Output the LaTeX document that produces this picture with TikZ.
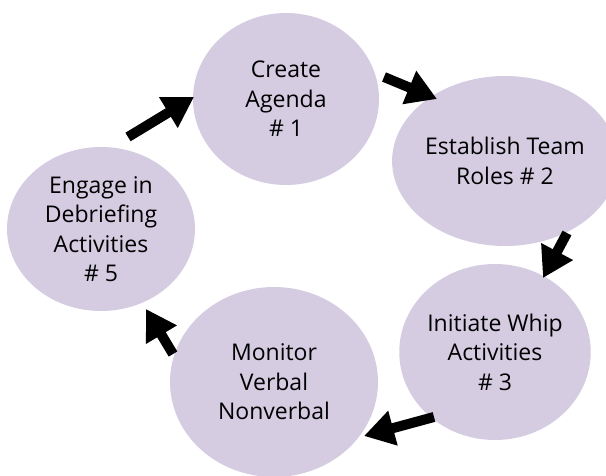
\documentclass[tikz,border=0pt]{standalone}
\usepackage{fontspec}
\setmainfont{Open Sans}
\usetikzlibrary{arrows.meta,shapes.geometric}
\definecolor{lav}{HTML}{D5CCE2}
\tikzset{
  bub/.style={ellipse, fill=lav, draw=none, align=center, inner sep=0pt,
    font=\fontsize{23}{29.5}\selectfont},
  blk/.style={line width=10pt, -{Triangle[width=34pt,length=30pt]}, draw=black}
}
\begin{document}
\begin{tikzpicture}[x=1pt,y=-1pt]
\useasboundingbox (0,0) rectangle (606,476);
\node[bub, minimum width=186pt, minimum height=172pt] (n1) at (286,99) {Create\\Agenda\\\# 1};
\node[bub, minimum width=204pt, minimum height=170pt] (n2) at (505,161) {Establish Team\\Roles \# 2};
\node[bub, minimum width=186pt, minimum height=176pt] (n3) at (495,352) {Initiate Whip\\Activities\\\# 3};
\node[bub, minimum width=208pt, minimum height=190pt] (n4) at (274,382) {Monitor\\Verbal\\Nonverbal};
\node[bub, minimum width=188pt, minimum height=164pt] (n5) at (101,229) {Engage in\\Debriefing\\Activities\\\# 5};
\coordinate (a1s) at (128,137); \coordinate (a1e) at (194,97);
\coordinate (a2s) at (384,77); \coordinate (a2e) at (437,99);
\coordinate (a3s) at (567,233); \coordinate (a3e) at (543,278);
\coordinate (a4s) at (434,417); \coordinate (a4e) at (364,436);
\coordinate (a5s) at (173,354); \coordinate (a5e) at (146,309);
\draw[blk] (a1s) -- (a1e);
\draw[blk] (a2s) -- (a2e);
\draw[blk] (a3s) -- (a3e);
\draw[blk] (a4s) -- (a4e);
\draw[blk] (a5s) -- (a5e);
\end{tikzpicture}
\end{document}
